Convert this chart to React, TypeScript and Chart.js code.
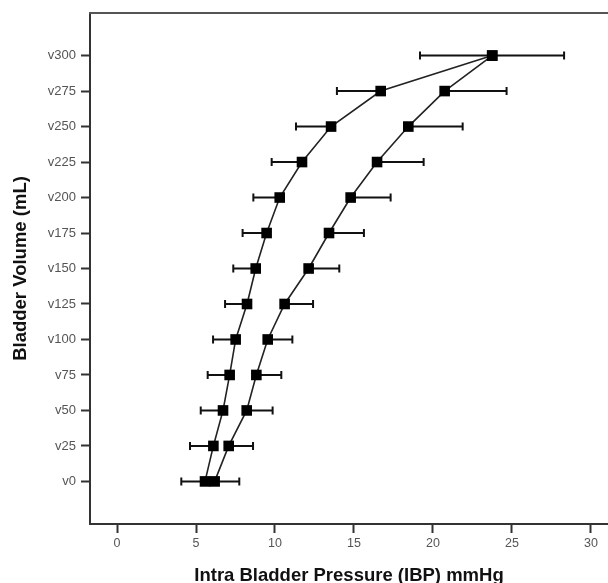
import React, { useEffect, useRef } from "react";
import { Chart, registerables } from "chart.js";

Chart.register(...registerables);

const volumes = [0, 25, 50, 75, 100, 125, 150, 175, 200, 225, 250, 275, 300];
const volumeLabels = ["v0", "v25", "v50", "v75", "v100", "v125", "v150", "v175", "v200", "v225", "v250", "v275", "v300"];
const xTicks = [0, 5, 10, 15, 20, 25, 30];

// left curve (error bars drawn to the lower side)
const leftMean = [5.57, 6.1, 6.71, 7.13, 7.51, 8.23, 8.78, 9.47, 10.3, 11.71, 13.55, 16.69, 23.75];
const leftLower = [4.07, 4.62, 5.3, 5.74, 6.08, 6.84, 7.36, 7.95, 8.63, 9.79, 11.33, 13.92, 19.18];
// right curve (error bars drawn to the upper side)
const rightMean = [6.18, 7.07, 8.21, 8.82, 9.54, 10.61, 12.13, 13.42, 14.79, 16.46, 18.44, 20.74, 23.75];
const rightUpper = [7.74, 8.61, 9.85, 10.4, 11.1, 12.41, 14.07, 15.63, 17.32, 19.41, 21.88, 24.66, 28.3];

const FONT = "'Liberation Sans', Arial, sans-serif";

const errorBarPlugin = {
  id: "errorBars",
  beforeDatasetsDraw(chart: any) {
    const { ctx, scales } = chart;
    const xs = scales.x;
    const ys = scales.y;
    ctx.save();
    ctx.strokeStyle = "#111";
    ctx.lineWidth = 2;
    const cap = 4;
    const drawBar = (from: number, to: number, v: number) => {
      const y = ys.getPixelForValue(v);
      const x1 = xs.getPixelForValue(from);
      const x2 = xs.getPixelForValue(to);
      ctx.beginPath();
      ctx.moveTo(x1, y);
      ctx.lineTo(x2, y);
      ctx.moveTo(x2, y - cap);
      ctx.lineTo(x2, y + cap);
      ctx.stroke();
    };
    volumes.forEach((v, i) => {
      drawBar(leftMean[i], leftLower[i], v);
      drawBar(rightMean[i], rightUpper[i], v);
    });
    // top frame line
    const area = chart.chartArea;
    ctx.strokeStyle = "#555";
    ctx.lineWidth = 2;
    ctx.beginPath();
    ctx.moveTo(area.left - 1, area.top);
    ctx.lineTo(area.right, area.top);
    ctx.stroke();
    ctx.restore();
  },
};

export default function App() {
  const ref = useRef<HTMLCanvasElement>(null);
  useEffect(() => {
    document.body.style.margin = "0";
    const canvas = ref.current!;
    const mk = (xs: number[]) => xs.map((x, i) => ({ x, y: volumes[i] }));
    const dsBase = {
      borderColor: "#222",
      borderWidth: 1.6,
      tension: 0,
      pointStyle: "rect",
      pointRadius: 7.5,
      pointBackgroundColor: "#000",
      pointBorderWidth: 0,
      fill: false,
    };
    const chart = new Chart(canvas, {
      type: "line",
      data: {
        datasets: [
          { ...dsBase, label: "left", data: mk(leftMean) },
          { ...dsBase, label: "right", data: mk(rightMean) },
        ],
      } as any,
      options: {
        animation: false,
        responsive: false,
        layout: { padding: { top: 13, left: 0, right: 0, bottom: 0 }, autoPadding: false },
        plugins: { legend: { display: false }, tooltip: { enabled: false } },
        scales: {
          x: {
            type: "linear",
            min: -1.71,
            max: 31.08,
            afterBuildTicks: (s: any) => {
              s.ticks = xTicks.map((v) => ({ value: v }));
            },
            afterFit: (s: any) => {
              s.height = 59;
              s.paddingLeft = 0;
              s.paddingRight = 0;
            },
            grid: {
              drawOnChartArea: false,
              drawTicks: true,
              tickLength: 9,
              tickWidth: 2,
              tickColor: "#333",
            },
            border: { display: true, color: "#333", width: 2 },
            ticks: {
              color: "#555",
              font: { family: FONT, size: 12.5 },
              padding: 3,
              maxRotation: 0,
            },
            title: {
              display: true,
              text: "Intra Bladder Pressure (IBP) mmHg",
              color: "#111",
              font: { family: FONT, size: 18.5, weight: "bold", lineHeight: 1 },
              padding: { top: 0, bottom: -2 },
            },
          },
          y: {
            type: "linear",
            min: -30,
            max: 330,
            afterBuildTicks: (s: any) => {
              s.ticks = volumes.map((v) => ({ value: v }));
            },
            afterFit: (s: any) => {
              s.width = 90;
              s.paddingTop = 0;
              s.paddingBottom = 0;
            },
            grid: {
              drawOnChartArea: false,
              drawTicks: true,
              tickLength: 9,
              tickWidth: 2,
              tickColor: "#333",
            },
            border: { display: true, color: "#333", width: 2 },
            ticks: {
              color: "#555",
              font: { family: FONT, size: 13 },
              padding: 5,
              callback: (value: any) => {
                const i = volumes.indexOf(Number(value));
                return i >= 0 ? volumeLabels[i] : "";
              },
            },
            title: {
              display: true,
              text: "Bladder Volume (mL)",
              color: "#111",
              font: { family: FONT, size: 18.5, weight: "bold", lineHeight: 1 },
              padding: { top: 11.25, bottom: 0 },
            },
          },
        },
      } as any,
      plugins: [errorBarPlugin],
    });
    return () => chart.destroy();
  }, []);
  return (
    <div style={{ width: 608, height: 583 }}>
      <canvas ref={ref} width={608} height={583} style={{ display: "block" }} />
    </div>
  );
}
